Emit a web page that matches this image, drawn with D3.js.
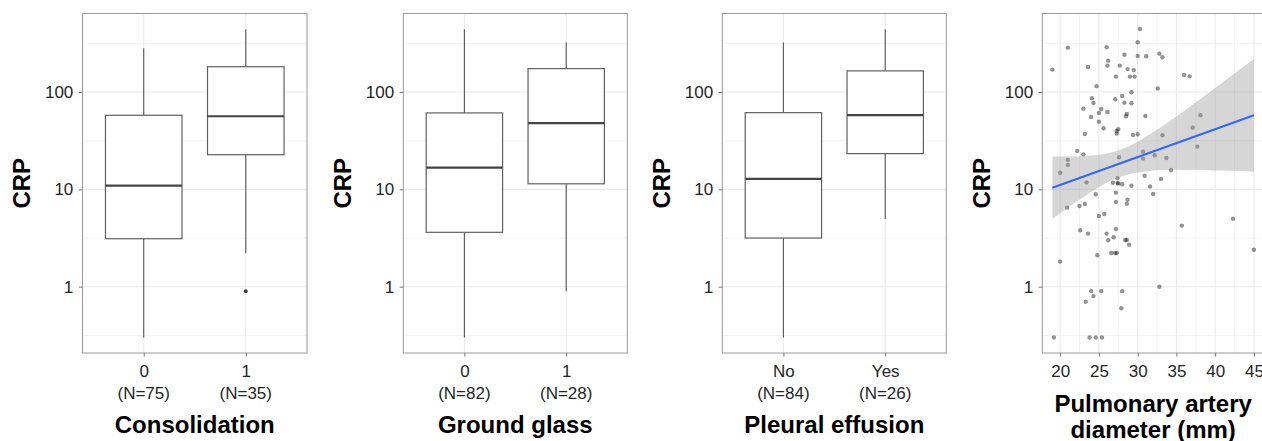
<!DOCTYPE html>
<html>
<head>
<meta charset="utf-8">
<script src="https://cdn.jsdelivr.net/npm/d3@7"></script>
<style>
	body { margin: 0; background: #fff; }
	text { font-family: "Liberation Sans", Arial, sans-serif; }
</style>
</head>
<body>
<div id="chart"></div>
<script>
// ---- data ----
var crpTicks = [1, 10, 100];
var crpMinor = [0.316, 3.16, 31.6, 316];

var consolCats = ["0", "1"];
var consolN = ["(N=75)", "(N=35)"];
var consolLow = [0.30, 2.2];
var consolQ1 = [3.11, 22.7];
var consolMed = [10.9, 56.4];
var consolQ3 = [57.7, 182];
var consolHigh = [282, 442];
var consolOut = [[], [0.9]];

var glassCats = ["0", "1"];
var glassN = ["(N=82)", "(N=28)"];
var glassLow = [0.30, 0.90];
var glassQ1 = [3.62, 11.4];
var glassMed = [16.7, 48];
var glassQ3 = [61, 174];
var glassHigh = [442, 322];
var glassOut = [[], []];

var pleuralCats = ["No", "Yes"];
var pleuralN = ["(N=84)", "(N=26)"];
var pleuralLow = [0.30, 4.96];
var pleuralQ1 = [3.16, 23.3];
var pleuralMed = [12.8, 58];
var pleuralQ3 = [61.4, 165];
var pleuralHigh = [322, 442];
var pleuralOut = [[], []];

// pulmonary artery diameter (mm) vs CRP
var paDiam = [30.3, 21.0, 26.0, 30.0, 28.3, 30.0, 31.1, 32.8, 33.2, 19.0,
	23.6, 26.2, 26.1, 27.7, 28.7, 29.5, 27.2, 29.0, 29.6, 36.0,
	36.7, 24.7, 32.6, 29.2, 28.0, 24.1, 27.1, 24.3, 28.3, 29.2,
	23.0, 25.3, 25.0, 26.1, 28.6, 28.5, 24.0, 31.0, 25.0, 25.6,
	27.5, 27.3, 27.3, 23.2, 29.4, 30.0, 33.2, 38.1, 37.1, 37.7,
	22.2, 23.0, 27.6, 30.7, 30.7, 32.2, 33.7, 21.0, 21.0, 34.3,
	20.0, 30.9, 27.4, 33.0, 23.4, 26.8, 27.4, 28.0, 29.2, 31.6,
	27.5, 24.6, 27.2, 32.0, 27.2, 28.7, 28.6, 20.9, 22.5, 23.2,
	25.0, 25.7, 42.3, 35.7, 22.6, 23.6, 27.2, 26.0, 26.9, 26.2,
	28.4, 28.6, 28.9, 45.0, 24.8, 26.6, 27.1, 27.3, 20.0, 32.8,
	24.0, 25.3, 28.0, 24.3, 23.3, 27.9, 19.2, 23.8, 24.6, 25.4];
var paCrp = [445, 286, 289, 325, 242, 235, 233, 248, 228, 170,
	181, 210, 187, 187, 172, 168, 144, 144, 144, 150,
	145, 115, 109, 99.5, 91.2, 86.3, 84.3, 77.3, 77.8, 76.7,
	67.5, 67.0, 61.0, 62.4, 59.6, 56.4, 55.5, 56.8, 49.6, 42.5,
	41.5, 39.8, 37.4, 37.1, 36.2, 36.8, 36.0, 57.8, 43.1, 27.5,
	24.8, 22.9, 21.4, 24.4, 20.7, 22.4, 21.0, 20.0, 17.8, 15.8,
	14.8, 13.8, 13.0, 12.8, 11.8, 11.7, 11.6, 11.3, 10.9, 10.7,
	11.5, 8.9, 9.25, 8.97, 7.43, 7.84, 7.13, 6.49, 6.75, 7.08,
	5.33, 5.59, 5.0, 4.24, 3.80, 3.51, 3.92, 3.51, 3.22, 3.0,
	3.02, 3.02, 2.70, 2.40, 2.10, 2.22, 2.22, 2.22, 1.81, 1.0,
	0.90, 0.90, 0.90, 0.80, 0.70, 0.60, 0.30, 0.30, 0.30, 0.30];

var paTicks = [20, 25, 30, 35, 40, 45];
var paMinor = [22.5, 27.5, 32.5, 37.5, 42.5];

// linear fit and its confidence band
var fitX = [19, 45];
var fitY = [10.4, 57.7];
var bandX = [19, 21, 23, 25, 27, 29, 31, 33, 35, 37, 39, 41, 43, 45];
var bandLow = [4.98, 6.48, 8.34, 10.5, 12.7, 14.4, 15.3, 15.8, 15.9, 15.9, 15.7, 15.6, 15.4, 15.2];
var bandHigh = [21.7, 21.7, 22.0, 22.7, 24.4, 28.1, 34.3, 43.4, 56.1, 73.1, 95.8, 126, 166, 219];

// ---- layout ----
var width = 1262;
var height = 441;
var plotTop = 13.5;
var plotBottom = 353;
var tickLen = 3.7;
var gridCol = "#ebebeb";
var borderCol = "#9a9a9a";
var textCol = "#262626";

var svg = d3.select("#chart").append("svg")
	.attr("width", width)
	.attr("height", height);

// shared log scale for CRP, ggplot style 5% expansion
var logMin = Math.log10(d3.min(paCrp));
var logMax = Math.log10(d3.max(paCrp));
var pad = (logMax - logMin) * 0.05;
var y = d3.scaleLog()
	.domain([Math.pow(10, logMin - pad), Math.pow(10, logMax + pad)])
	.range([plotBottom, plotTop]);

var yGrid = function(g, left, right) {
	g.selectAll(".yminor").data(crpMinor).enter().append("line")
		.attr("x1", left).attr("x2", right)
		.attr("y1", function(d) { return y(d); })
		.attr("y2", function(d) { return y(d); })
		.style("stroke", gridCol)
		.style("stroke-width", 0.6);
	g.selectAll(".ymajor").data(crpTicks).enter().append("line")
		.attr("x1", left).attr("x2", right)
		.attr("y1", function(d) { return y(d); })
		.attr("y2", function(d) { return y(d); })
		.style("stroke", gridCol)
		.style("stroke-width", 1.1);
}

var yAxisAndTitle = function(g, left) {
	var ax = g.append("g")
		.attr("transform", "translate(" + left + ",0)")
		.call(d3.axisLeft(y).tickValues(crpTicks).tickFormat(d3.format("d")).tickSize(tickLen).tickPadding(5.5));
	ax.select(".domain").remove();
	ax.selectAll("line").style("stroke", "#777");
	ax.selectAll("text")
		.attr("font-family", null)
		.style("font-size", "17px")
		.style("fill", textCol);

	g.append("text")
		.text("CRP")
		.style("text-anchor", "middle")
		.style("font-weight", "bold")
		.style("font-size", "24px")
		.attr("transform", "translate(" + (left - 52.5) + "," + ((plotTop + plotBottom) / 2) + ") rotate(-90)");
}

var border = function(g, left, right) {
	g.append("rect")
		.attr("x", left)
		.attr("y", plotTop)
		.attr("width", right - left)
		.attr("height", plotBottom - plotTop)
		.style("fill", "none")
		.style("stroke", borderCol)
		.style("stroke-width", 1);
}

var boxPanel = function(left, right, cats, nLab, low, q1, med, q3, high, outl, title) {
	var x = d3.scalePoint().domain(cats).range([left, right]).padding(0.6);
	var bw = x.step() * 0.75;
	var g = svg.append("g");

	yGrid(g, left, right);
	g.selectAll(".xgrid").data(cats).enter().append("line")
		.attr("x1", function(d) { return x(d); })
		.attr("x2", function(d) { return x(d); })
		.attr("y1", plotTop).attr("y2", plotBottom)
		.style("stroke", gridCol)
		.style("stroke-width", 1.1);

	cats.forEach(function(c, i) {
		var cx = x(c);
		g.append("line")
			.attr("x1", cx).attr("x2", cx)
			.attr("y1", y(low[i])).attr("y2", y(q1[i]))
			.style("stroke", "#555").style("stroke-width", 1.1);
		g.append("line")
			.attr("x1", cx).attr("x2", cx)
			.attr("y1", y(q3[i])).attr("y2", y(high[i]))
			.style("stroke", "#555").style("stroke-width", 1.1);
		g.append("rect")
			.attr("x", cx - bw / 2)
			.attr("y", y(q3[i]))
			.attr("width", bw)
			.attr("height", y(q1[i]) - y(q3[i]))
			.style("fill", "#fff")
			.style("stroke", "#606060")
			.style("stroke-width", 1.2);
		g.append("line")
			.attr("x1", cx - bw / 2).attr("x2", cx + bw / 2)
			.attr("y1", y(med[i])).attr("y2", y(med[i]))
			.style("stroke", "#444").style("stroke-width", 2.2);
		outl[i].forEach(function(v) {
			g.append("circle")
				.attr("cx", cx).attr("cy", y(v))
				.attr("r", 1.9)
				.style("fill", "#333");
		});
	});

	border(g, left, right);

	var ax = g.append("g")
		.attr("transform", "translate(0," + plotBottom + ")")
		.call(d3.axisBottom(x).tickSize(tickLen));
	ax.select(".domain").remove();
	ax.selectAll("line").style("stroke", "#777");
	ax.selectAll("text")
		.attr("font-family", null)
		.attr("dy", null)
		.attr("y", 376.7 - plotBottom)
		.style("font-size", "17px")
		.style("fill", textCol);

	g.selectAll(".nlab").data(cats).enter().append("text")
		.text(function(d, i) { return nLab[i]; })
		.attr("x", function(d) { return x(d); })
		.attr("y", 398.5)
		.style("text-anchor", "middle")
		.style("font-size", "17px")
		.style("fill", textCol);

	yAxisAndTitle(g, left);

	g.append("text")
		.text(title)
		.attr("x", (left + right) / 2)
		.attr("y", 433)
		.style("text-anchor", "middle")
		.style("font-weight", "bold")
		.style("font-size", "24px");
}

boxPanel(82.5, 307, consolCats, consolN, consolLow, consolQ1, consolMed, consolQ3, consolHigh, consolOut, "Consolidation");
boxPanel(403.3, 627.3, glassCats, glassN, glassLow, glassQ1, glassMed, glassQ3, glassHigh, glassOut, "Ground glass");
boxPanel(722.3, 946.3, pleuralCats, pleuralN, pleuralLow, pleuralQ1, pleuralMed, pleuralQ3, pleuralHigh, pleuralOut, "Pleural effusion");

// ---- scatter panel (runs past the right edge, as in the source) ----
var sLeft = 1042.3;
var sRight = 1264;
var xMin = d3.min(paDiam), xMax = d3.max(paDiam);
var xPad = (xMax - xMin) * 0.05;
var xs = d3.scaleLinear()
	.domain([xMin - xPad, xMax + xPad])
	.range([sLeft, sRight]);

var sg = svg.append("g");
yGrid(sg, sLeft, sRight);
sg.selectAll(".xminor").data(paMinor).enter().append("line")
	.attr("x1", function(d) { return xs(d); })
	.attr("x2", function(d) { return xs(d); })
	.attr("y1", plotTop).attr("y2", plotBottom)
	.style("stroke", gridCol)
	.style("stroke-width", 0.6);
sg.selectAll(".xmajor").data(paTicks).enter().append("line")
	.attr("x1", function(d) { return xs(d); })
	.attr("x2", function(d) { return xs(d); })
	.attr("y1", plotTop).attr("y2", plotBottom)
	.style("stroke", gridCol)
	.style("stroke-width", 1.1);

sg.selectAll(".pt").data(paDiam).enter().append("circle")
	.attr("cx", function(d) { return xs(d); })
	.attr("cy", function(d, i) { return y(paCrp[i]); })
	.attr("r", 2.2)
	.style("fill", "#000")
	.style("opacity", 0.42);

var band = d3.area()
	.x(function(d) { return xs(d); })
	.y0(function(d, i) { return y(bandLow[i]); })
	.y1(function(d, i) { return y(bandHigh[i]); })
	.curve(d3.curveMonotoneX);
sg.append("path")
	.datum(bandX)
	.attr("d", band)
	.style("fill", "#999")
	.style("opacity", 0.4);

var fit = d3.line()
	.x(function(d) { return xs(d); })
	.y(function(d, i) { return y(fitY[i]); });
sg.append("path")
	.datum(fitX)
	.attr("d", fit)
	.style("fill", "none")
	.style("stroke", "#3366FF")
	.style("stroke-width", 2);

border(sg, sLeft, sRight);

var sax = sg.append("g")
	.attr("transform", "translate(0," + plotBottom + ")")
	.call(d3.axisBottom(xs).tickValues(paTicks).tickSize(tickLen));
sax.select(".domain").remove();
sax.selectAll("line").style("stroke", "#777");
sax.selectAll("text")
	.attr("font-family", null)
	.attr("dy", null)
	.attr("y", 376.7 - plotBottom)
	.style("font-size", "17px")
	.style("fill", textCol);

yAxisAndTitle(sg, sLeft);

var sTitle = ["Pulmonary artery", "diameter (mm)"];
sg.selectAll(".stitle").data(sTitle).enter().append("text")
	.text(function(d) { return d; })
	.attr("x", (sLeft + sRight) / 2)
	.attr("y", function(d, i) { return 411.5 + i * 26.5; })
	.style("text-anchor", "middle")
	.style("font-weight", "bold")
	.style("font-size", "24px");
</script>
</body>
</html>
